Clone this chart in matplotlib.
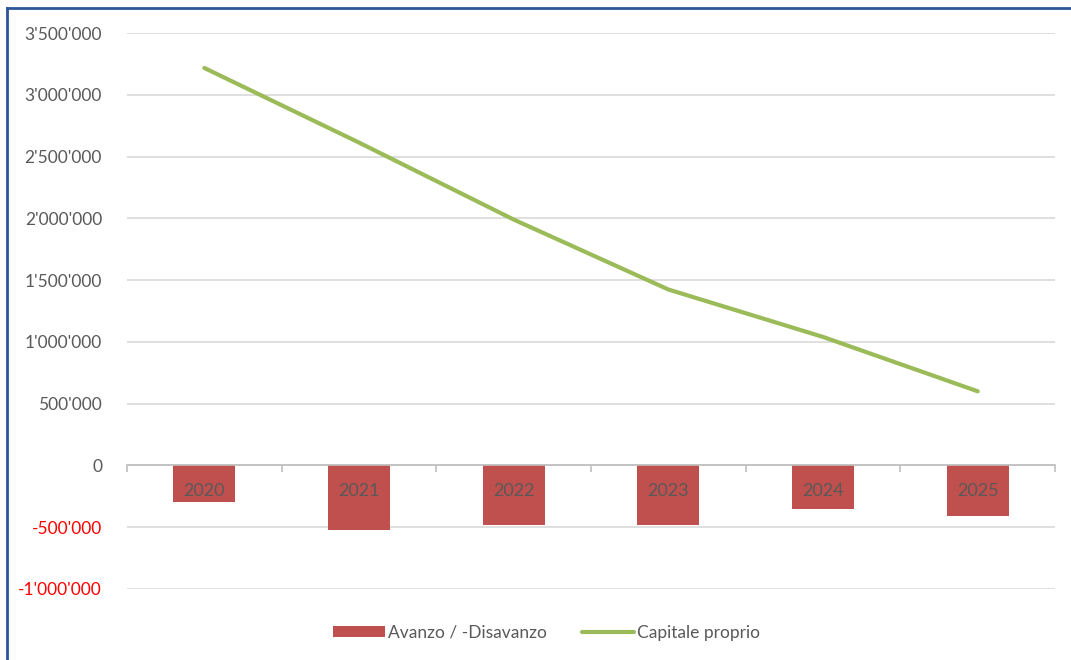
from matplotlib import pyplot as plt
from matplotlib.lines import Line2D
from matplotlib.ticker import FuncFormatter
import numpy as np

plt.rcParams['font.family'] = ['Lato', 'DejaVu Sans']

### - Data
years = ['2020', '2021', '2022', '2023', '2024', '2025']
avanzo = [-296000, -522000, -481000, -481000, -351000, -411000]      # Avanzo / -Disavanzo
capitale = [3217000, 2613000, 1990000, 1424000, 1040000, 600000]    # Capitale proprio

bar_col = '#C0504D'
line_col = '#9BBB59'
txt_col = '#595959'
grid_col = '#D9D9D9'

# Swiss style thousands separator, e.g. 3'500'000
def swiss_fmt(v, pos=None):
    if v == 0:
        return '0'
    s = f"{abs(int(round(v))):,}".replace(',', "'")
    return ('-' if v < 0 else '') + s

fig = plt.figure(figsize=(10.71, 6.6), dpi=100)
ax = fig.add_axes([0.1186, 0.1076, 0.8665, 0.8424])

x = np.arange(len(years))
bars = ax.bar(x, avanzo, width=0.4, color=bar_col, zorder=2, label='Avanzo / -Disavanzo')
line, = ax.plot(x, capitale, color=line_col, lw=3, solid_capstyle='round', zorder=3, label='Capitale proprio')

ax.set_xlim(-0.5, len(years) - 0.5)
ax.set_ylim(-1000000, 3500000)
ax.set_yticks(np.arange(-1000000, 3500001, 500000))
ax.yaxis.set_major_formatter(FuncFormatter(swiss_fmt))
ax.grid(axis='y', color=grid_col, lw=1.2, zorder=0)
ax.tick_params(axis='y', length=0, pad=18, labelsize=12.5, labelcolor=txt_col)

# Negative tick labels in red
for lab, val in zip(ax.get_yticklabels(), ax.get_yticks()):
    if val < 0:
        lab.set_color('#FF0000')

# Category axis sits on the zero line
for s in ['top', 'right', 'left']:
    ax.spines[s].set_visible(False)
ax.spines['bottom'].set_position(('data', 0))
ax.spines['bottom'].set_color('#BFBFBF')
ax.spines['bottom'].set_linewidth(1.2)
ax.set_xticks(x)
ax.set_xticklabels([])
ax.tick_params(axis='x', which='major', length=0)
ax.set_xticks(np.arange(-0.5, len(years), 1.0), minor=True)
ax.tick_params(axis='x', which='minor', length=5, width=1.2, color='#BFBFBF', direction='out')

# Year labels drawn on top of the bars, just under the zero line
for xi, yr in zip(x, years):
    ax.annotate(yr, (xi, 0), xytext=(0, -26), textcoords='offset pixels', ha='center', va='center',
                fontsize=13, color=txt_col, zorder=5)

leg = ax.legend([bars, line], ['Avanzo / -Disavanzo', 'Capitale proprio'],
                loc='lower center', bbox_to_anchor=(0.452, -0.121), ncol=2, frameon=False,
                fontsize=12.5, handlelength=3.0, handleheight=0.6, columnspacing=2.0,
                handletextpad=0.2, labelcolor=txt_col)

# Blue frame along the top and left edges
fig.add_artist(Line2D([0.0065, 1.0], [0.988, 0.988], color='#2E5597', lw=2, transform=fig.transFigure))
fig.add_artist(Line2D([0.0065, 0.0065], [0.0, 0.988], color='#2E5597', lw=2, transform=fig.transFigure))

fig.savefig('out.png', dpi=100)
